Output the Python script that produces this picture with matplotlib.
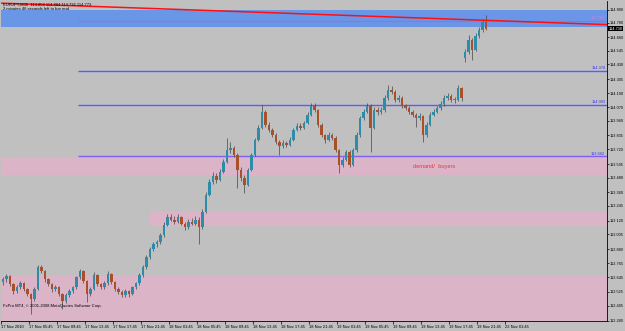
import numpy as np
import matplotlib.pyplot as plt
from matplotlib.patches import Rectangle
from matplotlib.transforms import blended_transform_factory

plt.rcParams['font.family'] = ['Liberation Sans', 'DejaVu Sans']

# EURJPY M30 bars
closes = [112.628, 112.653, 112.586, 112.528, 112.561, 112.595, 112.545, 112.503, 112.461, 112.545,
          112.729, 112.695, 112.628, 112.586, 112.545, 112.561, 112.503, 112.444, 112.494, 112.528,
          112.561, 112.645, 112.695, 112.611, 112.503, 112.545, 112.662, 112.586, 112.561, 112.595,
          112.670, 112.603, 112.545, 112.520, 112.494, 112.528, 112.503, 112.561, 112.595, 112.662,
          112.729, 112.812, 112.879, 112.921, 112.938, 112.996, 113.088, 113.147, 113.130, 113.113,
          113.147, 113.096, 113.063, 113.113, 113.096, 113.130, 113.063, 113.197, 113.339, 113.447,
          113.498, 113.464, 113.531, 113.615, 113.715, 113.732, 113.673, 113.548, 113.481, 113.422,
          113.548, 113.673, 113.799, 113.899, 114.033, 113.924, 113.882, 113.840, 113.782, 113.748,
          113.774, 113.757, 113.799, 113.882, 113.916, 113.899, 113.941, 114.008, 114.083, 114.049,
          113.924, 113.840, 113.799, 113.840, 113.815, 113.715, 113.590, 113.631, 113.698, 113.590,
          113.715, 113.840, 113.983, 114.033, 114.083, 113.899, 114.049, 114.033, 114.049, 114.150,
          114.217, 114.200, 114.133, 114.150, 114.083, 114.066, 114.033, 114.008, 113.983, 113.999,
          113.840, 113.924, 114.008, 114.033, 114.066, 114.100, 114.150, 114.166, 114.133, 114.133,
          114.233, 114.150, 114.534, 114.635, 114.551, 114.668, 114.718, 114.785, 114.730]
highs = [112.650, 112.675, 112.668, 112.600, 112.580, 112.612, 112.605, 112.555, 112.515, 112.560,
         112.752, 112.745, 112.705, 112.640, 112.598, 112.580, 112.572, 112.515, 112.510, 112.545,
         112.575, 112.660, 112.712, 112.705, 112.620, 112.562, 112.687, 112.672, 112.600, 112.612,
         112.695, 112.680, 112.615, 112.560, 112.535, 112.545, 112.540, 112.575, 112.610, 112.680,
         112.748, 112.830, 112.900, 112.945, 112.962, 113.015, 113.110, 113.175, 113.180, 113.160,
         113.175, 113.160, 113.110, 113.135, 113.140, 113.160, 113.150, 113.215, 113.360, 113.470,
         113.530, 113.520, 113.555, 113.640, 113.815, 113.780, 113.750, 113.690, 113.570, 113.500,
         113.565, 113.690, 113.815, 113.920, 114.091, 114.050, 113.950, 113.900, 113.855, 113.795,
         113.800, 113.790, 113.820, 113.900, 113.935, 113.940, 113.960, 114.030, 114.108, 114.105,
         114.060, 113.935, 113.850, 113.860, 113.855, 113.830, 113.725, 113.655, 113.715, 113.710,
         113.730, 113.860, 114.000, 114.060, 114.110, 114.095, 114.070, 114.075, 114.070, 114.170,
         114.258, 114.250, 114.215, 114.175, 114.165, 114.100, 114.080, 114.050, 114.025, 114.020,
         114.010, 113.945, 114.030, 114.055, 114.085, 114.120, 114.170, 114.190, 114.180, 114.160,
         114.258, 114.245, 114.560, 114.680, 114.650, 114.690, 114.745, 114.810, 114.844]
lows = [112.585, 112.610, 112.570, 112.505, 112.515, 112.548, 112.530, 112.485, 112.335, 112.445,
        112.535, 112.680, 112.610, 112.570, 112.525, 112.530, 112.485, 112.378, 112.430, 112.480,
        112.515, 112.550, 112.635, 112.598, 112.436, 112.490, 112.535, 112.570, 112.545, 112.548,
        112.585, 112.590, 112.530, 112.505, 112.478, 112.480, 112.478, 112.495, 112.550, 112.585,
        112.650, 112.715, 112.795, 112.865, 112.900, 112.925, 112.985, 113.075, 113.115, 113.095,
        113.100, 113.080, 113.045, 113.050, 113.080, 113.085, 112.921, 113.050, 113.185, 113.325,
        113.430, 113.440, 113.450, 113.520, 113.600, 113.690, 113.655, 113.397, 113.455, 113.356,
        113.410, 113.535, 113.660, 113.785, 113.885, 113.905, 113.860, 113.820, 113.765, 113.673,
        113.730, 113.735, 113.745, 113.785, 113.870, 113.880, 113.885, 113.930, 113.995, 114.030,
        113.905, 113.820, 113.775, 113.785, 113.795, 113.700, 113.523, 113.570, 113.620, 113.570,
        113.580, 113.700, 113.825, 113.965, 114.020, 113.698, 113.885, 114.010, 114.015, 114.035,
        114.135, 114.180, 114.115, 114.115, 114.065, 114.045, 114.015, 113.990, 113.905, 113.965,
        113.782, 113.825, 113.910, 113.995, 114.020, 114.050, 114.085, 114.135, 114.115, 114.110,
        114.120, 114.125, 114.451, 114.520, 114.467, 114.540, 114.655, 114.700, 114.720]
first_open = 112.603
gap_bar = 132          # Monday open after the weekend gap
gap_open = 114.484

# time axis labels, one every 8 bars
time_labels = ['17 Nov 2010', '17 Nov 05:45', '17 Nov 09:45', '17 Nov 13:45', '17 Nov 17:45',
               '17 Nov 21:45', '18 Nov 01:45', '18 Nov 05:45', '18 Nov 09:45', '18 Nov 13:45',
               '18 Nov 17:45', '18 Nov 21:45', '19 Nov 01:45', '19 Nov 05:45', '19 Nov 09:45',
               '19 Nov 13:45', '19 Nov 17:45', '19 Nov 21:45', '22 Nov 01:45']
price_ticks = [114.890, 114.780, 114.660, 114.545, 114.430, 114.305, 114.190, 114.070,
               113.960, 113.835, 113.720, 113.595, 113.480, 113.360, 113.245, 113.120,
               113.005, 112.880, 112.765, 112.645, 112.525, 112.405, 112.280]

# drawn objects
level_lines = [114.378, 114.093, 113.662]
level_start = 21.5
supply_band = (114.743, 114.886)
supply_line = 114.796
demand_zones = [(-1, 113.507, 113.649), (42, 113.074, 113.201), (-1, 112.200, 112.653)]
trend_start = (-0.6, 114.944)
trend_end = (172.6, 114.764)

opens = [first_open] + closes[:-1]
opens[gap_bar] = gap_open
o = np.array(opens)
c = np.array(closes)
h = np.array(highs)
l = np.array(lows)
idx = np.arange(len(c))

bg = '#C0C0C0'
fig = plt.figure(figsize=(6.25, 3.31), dpi=100, facecolor=bg)
ax = fig.add_axes([1/625, 10/331, 606/625, 320/331])
ax.set_facecolor(bg)
xmin, xmax = -0.57, 172.57
ax.set_xlim(xmin, xmax)
ax.set_ylim(112.279, 114.962)

# zones
ax.axhspan(supply_band[0], supply_band[1], color='#6A96E8', lw=0, zorder=0)
for x0, lo, hi in demand_zones:
    ax.add_patch(Rectangle((x0, lo), xmax - x0 + 1, hi - lo, color='#DCB4C8', lw=0, zorder=0))

# level lines
for lv in level_lines:
    col = '#7C62F0' if lv < 113.8 else '#5A5AFF'
    ax.hlines(lv, level_start, xmax, color=col, lw=1.0, zorder=1)
    ax.text(xmax - 0.5, lv + 0.004, f'{lv:.3f}', color='#3434F0', fontsize=2.8,
            ha='right', va='bottom', zorder=5)
ax.hlines(supply_line, level_start, xmax, color='#C060D0', lw=0.8, zorder=1)
ax.text(xmax - 0.5, supply_line + 0.004, f'{supply_line:.3f}', color='#D080E0', fontsize=2.8,
        ha='right', va='bottom', zorder=5)

# candles
up = c >= o
body_lo = np.minimum(o, c)
body_h = np.maximum(np.abs(c - o), 0.004)
ax.vlines(idx, l, h, color='#454545', lw=0.5, zorder=2)
ax.bar(idx[up], body_h[up], bottom=body_lo[up], width=0.68, color='#2D8CAA', lw=0, zorder=3)
ax.bar(idx[~up], body_h[~up], bottom=body_lo[~up], width=0.68, color='#A8502A', lw=0, zorder=3)

# trend line
ax.plot([trend_start[0], trend_end[0]], [trend_start[1], trend_end[1]], color='#FF1010', lw=1.1, zorder=4)

ax.text(117, 113.573, 'demand/  buyers', color='#E03A3A', fontsize=4.1, ha='left', va='center', zorder=5)

# axes
for s in ['top', 'left']:
    ax.spines[s].set_visible(False)
for s in ['right', 'bottom']:
    ax.spines[s].set_color('black')
    ax.spines[s].set_linewidth(0.6)
ax.yaxis.tick_right()
ax.set_yticks(price_ticks, [f'{p:.3f}' for p in price_ticks])
ax.tick_params(axis='y', length=1.5, width=0.5, labelsize=2.8, pad=0.6)
ax.set_xticks(np.arange(len(time_labels)) * 8 - 0.5, time_labels)
ax.tick_params(axis='x', length=2, width=0.5, labelsize=2.9, pad=0.8)
for lab in ax.get_xticklabels():
    lab.set_horizontalalignment('left')

# current price tag
tr = blended_transform_factory(ax.transAxes, ax.transData)
ax.text(1.002, closes[-1], f'{closes[-1]:.3f}', transform=tr, fontsize=2.8, color='white',
        ha='left', va='center', bbox=dict(boxstyle='square,pad=0.15', fc='black', ec='none'),
        clip_on=False, zorder=6)

fig.text(3/625, 1 - 4.3/331, 'EURJPY,M30  114.858 114.884 114.736 114.773', fontsize=3,
         ha='left', va='center')
fig.text(3/625, 1 - 9.3/331, '2 minutes 46 seconds left to bar end', fontsize=3,
         ha='left', va='center')
fig.text(3/625, 1 - 306/331, 'FxPro MT4, © 2001-2008 MetaQuotes Software Corp.', fontsize=3,
         ha='left', va='center')

plt.savefig('out.png', dpi=100, facecolor=bg)
